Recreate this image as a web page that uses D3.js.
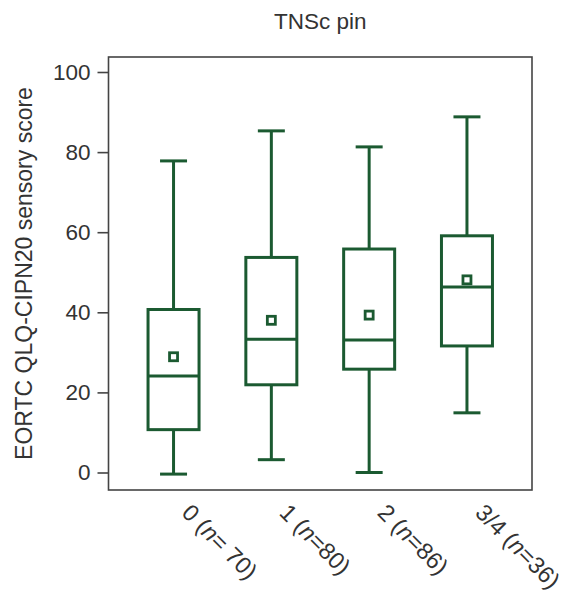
<!DOCTYPE html>
<html><head><meta charset="utf-8">
<script src="https://cdn.jsdelivr.net/npm/d3@7"></script>
<style>body{margin:0;background:#fff}svg{display:block}text{font-family:"Liberation Sans",Arial,sans-serif;fill:#333}</style>
</head><body>
<svg id="c" width="570" height="593"></svg>
<script>
const categories = ["0", "1", "2", "3/4"];
const nValues = ["70", "80", "86", "36"];
const nSep = ["= ", "=", "=", "="];
const whiskerLow = [-0.4, 3.2, 0.0, 14.9];
const q1 = [10.7, 21.9, 25.8, 31.6];
const median = [24.1, 33.3, 33.1, 46.3];
const q3 = [40.7, 53.7, 55.8, 59.1];
const whiskerHigh = [77.8, 85.3, 81.3, 88.8];
const mean = [28.9, 38.0, 39.3, 48.1];
const yTicks = [0, 20, 40, 60, 80, 100];
const title = "TNSc pin";
const yLabel = "EORTC QLQ-CIPN20 sensory score";

const green = "#1b5a31";
const svg = d3.select("#c");
const frame = {left: 108.5, right: 532, top: 57, bottom: 490};
const y = d3.scaleLinear().domain([0, 100]).range([472.5, 72]);
const x = d3.scalePoint().domain(categories).range([frame.left, frame.right]).padding(0.665);

const boxW = 51, capW = 27, sw = 3;

// frame
svg.append("rect").attr("x", frame.left).attr("y", frame.top)
  .attr("width", frame.right - frame.left).attr("height", frame.bottom - frame.top)
  .attr("fill", "none").attr("stroke", "#444").attr("stroke-width", 1.6);

// y axis
const yAxis = d3.axisLeft(y).tickValues(yTicks).tickSize(11).tickPadding(7);
const gy = svg.append("g").attr("transform", `translate(${frame.left},0)`).call(yAxis);
gy.select(".domain").remove();
gy.selectAll(".tick line").attr("stroke", "#444").attr("stroke-width", 1.6);
gy.selectAll(".tick text").attr("font-size", 22.5).attr("fill", "#333")
  .attr("font-family", "Liberation Sans, Arial, sans-serif");

// boxes
const data = categories.map((c, i) => ({c, lo: whiskerLow[i], q1: q1[i], med: median[i], q3: q3[i], hi: whiskerHigh[i], mean: mean[i]}));
const g = svg.append("g").attr("stroke", green).attr("stroke-width", sw).attr("fill", "none");
data.forEach(d => {
  const cx = x(d.c);
  g.append("line").attr("x1", cx).attr("x2", cx).attr("y1", y(d.hi)).attr("y2", y(d.q3));
  g.append("line").attr("x1", cx).attr("x2", cx).attr("y1", y(d.q1)).attr("y2", y(d.lo));
  g.append("line").attr("x1", cx - capW/2).attr("x2", cx + capW/2).attr("y1", y(d.hi)).attr("y2", y(d.hi));
  g.append("line").attr("x1", cx - capW/2).attr("x2", cx + capW/2).attr("y1", y(d.lo)).attr("y2", y(d.lo));
  g.append("rect").attr("x", cx - boxW/2).attr("y", y(d.q3)).attr("width", boxW).attr("height", y(d.q1) - y(d.q3));
  g.append("line").attr("x1", cx - boxW/2).attr("x2", cx + boxW/2).attr("y1", y(d.med)).attr("y2", y(d.med));
  g.append("rect").attr("x", cx - 4).attr("y", y(d.mean) - 4).attr("width", 8).attr("height", 8).attr("stroke-width", 2.8);
});

// x labels
categories.forEach((c, i) => {
  const t = svg.append("text")
    .attr("transform", `translate(${x(c) + 19},${frame.bottom + 12}) rotate(45)`)
    .attr("font-size", 23.5).attr("dominant-baseline", "hanging");
  t.append("tspan").text(c + " (");
  t.append("tspan").attr("font-style", "italic").text("n");
  t.append("tspan").text(nSep[i] + nValues[i] + ")");
});

// title
svg.append("text").attr("x", (frame.left + frame.right) / 2).attr("y", 29)
  .attr("text-anchor", "middle").attr("font-size", 22.5).text(title);

// y label
svg.append("text").attr("transform", `translate(32,${(frame.top + frame.bottom) / 2}) rotate(-90)`)
  .attr("text-anchor", "middle").attr("font-size", 23).text(yLabel);
</script>
</body></html>
